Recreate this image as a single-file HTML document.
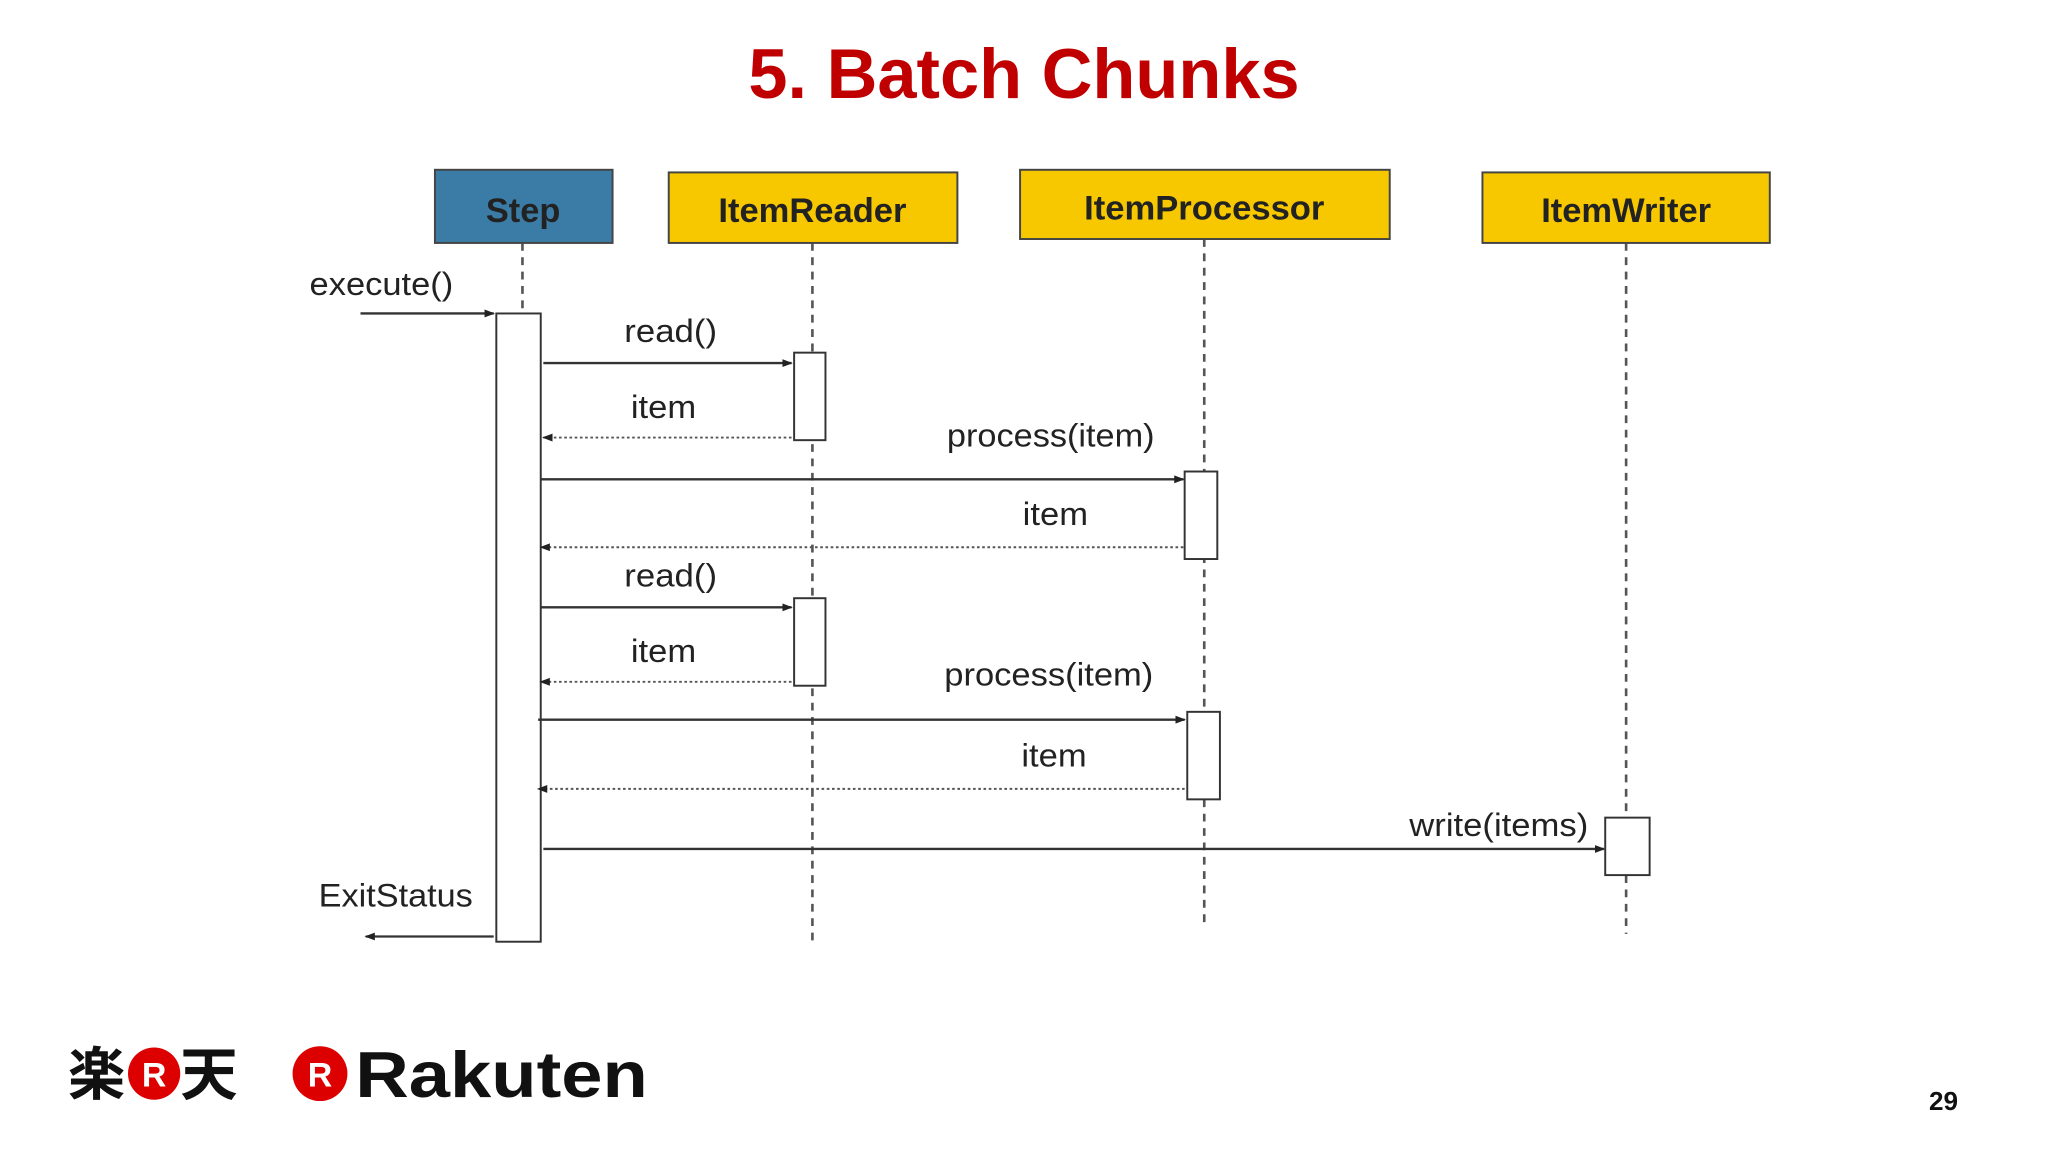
<!DOCTYPE html>
<html><head><meta charset="utf-8"><style>
html,body{margin:0;padding:0;background:#fff;}
svg{display:block;}
text{font-family:"Liberation Sans","Noto Sans CJK JP",sans-serif;}
</style></head><body>
<svg width="2048" height="1152" viewBox="0 0 1568 882" xmlns="http://www.w3.org/2000/svg">
<defs>
<marker id="a" markerWidth="8" markerHeight="8" refX="7" refY="4" orient="auto" markerUnits="userSpaceOnUse"><path d="M0,1 L8,4 L0,7z" fill="#222"/></marker>
</defs>
<rect width="1568" height="882" fill="#fff"/>
<text x="573" y="75" font-size="54" font-weight="bold" fill="#c00000" textLength="422" lengthAdjust="spacingAndGlyphs">5. Batch Chunks</text>

<g stroke="#555" stroke-width="2" stroke-dasharray="6,5" fill="none">
<line x1="400" y1="186" x2="400" y2="240"/>
<line x1="622" y1="186" x2="622" y2="725"/>
<line x1="922" y1="183" x2="922" y2="710"/>
<line x1="1245" y1="186" x2="1245" y2="715"/>
</g>

<g stroke="#444" stroke-width="1.5">
<rect x="333" y="130" width="136" height="56" fill="#3a7ca5"/>
<rect x="512" y="132" width="221" height="54" fill="#f7c800"/>
<rect x="781" y="130" width="283" height="53" fill="#f7c800"/>
<rect x="1135" y="132" width="220" height="54" fill="#f7c800"/>
</g>
<g font-size="26" font-weight="bold" fill="#222">
<text x="372" y="170" textLength="57" lengthAdjust="spacingAndGlyphs">Step</text>
<text x="550" y="170" textLength="144" lengthAdjust="spacingAndGlyphs">ItemReader</text>
<text x="830" y="168" textLength="184" lengthAdjust="spacingAndGlyphs">ItemProcessor</text>
<text x="1180" y="170" textLength="130" lengthAdjust="spacingAndGlyphs">ItemWriter</text>
</g>

<g stroke="#333" stroke-width="1.5" fill="#fff">
<rect x="380" y="240" width="34" height="481"/>
<rect x="608" y="270" width="24" height="67"/>
<rect x="608" y="458" width="24" height="67"/>
<rect x="907" y="361" width="25" height="67"/>
<rect x="909" y="545" width="25" height="67"/>
<rect x="1229" y="626" width="34" height="44"/>
</g>

<g stroke="#333" stroke-width="1.8" marker-end="url(#a)">
<line x1="276" y1="240" x2="378" y2="240"/>
<line x1="416" y1="278" x2="606" y2="278"/>
<line x1="414" y1="367" x2="906" y2="367"/>
<line x1="414" y1="465" x2="606" y2="465"/>
<line x1="412" y1="551" x2="907" y2="551"/>
<line x1="416" y1="650" x2="1228" y2="650"/>
<line x1="378" y1="717" x2="280" y2="717"/>
</g>
<g stroke="#555" stroke-width="1.5" stroke-dasharray="2,2" marker-end="url(#a)">
<line x1="606" y1="335" x2="416" y2="335"/>
<line x1="906" y1="419" x2="414" y2="419"/>
<line x1="606" y1="522" x2="414" y2="522"/>
<line x1="907" y1="604" x2="412" y2="604"/>
</g>

<g font-size="25" fill="#222" lengthAdjust="spacingAndGlyphs">
<text x="237" y="226" textLength="110" lengthAdjust="spacingAndGlyphs">execute()</text>
<text x="478" y="262" textLength="71" lengthAdjust="spacingAndGlyphs">read()</text>
<text x="483" y="320" textLength="50" lengthAdjust="spacingAndGlyphs">item</text>
<text x="725" y="342" textLength="159" lengthAdjust="spacingAndGlyphs">process(item)</text>
<text x="783" y="402" textLength="50" lengthAdjust="spacingAndGlyphs">item</text>
<text x="478" y="449" textLength="71" lengthAdjust="spacingAndGlyphs">read()</text>
<text x="483" y="507" textLength="50" lengthAdjust="spacingAndGlyphs">item</text>
<text x="723" y="525" textLength="160" lengthAdjust="spacingAndGlyphs">process(item)</text>
<text x="782" y="587" textLength="50" lengthAdjust="spacingAndGlyphs">item</text>
<text x="1079" y="640" textLength="137" lengthAdjust="spacingAndGlyphs">write(items)</text>
<text x="244" y="694" textLength="118" lengthAdjust="spacingAndGlyphs">ExitStatus</text>
</g>

<text x="52" y="838" font-size="44" font-weight="bold" fill="#111">楽</text>
<circle cx="118" cy="822" r="20" fill="#d00"/>
<text x="118" y="832" font-size="26" font-weight="bold" fill="#fff" text-anchor="middle">R</text>
<text x="138" y="838" font-size="44" font-weight="bold" fill="#111">天</text>
<circle cx="245" cy="822" r="21" fill="#d00"/>
<text x="245" y="832" font-size="26" font-weight="bold" fill="#fff" text-anchor="middle">R</text>
<text x="272" y="840" font-size="50" font-weight="bold" fill="#111" textLength="224" lengthAdjust="spacingAndGlyphs">Rakuten</text>
<text x="1488" y="850" font-size="20" font-weight="bold" fill="#111" text-anchor="middle">29</text>
</svg>
</body></html>
